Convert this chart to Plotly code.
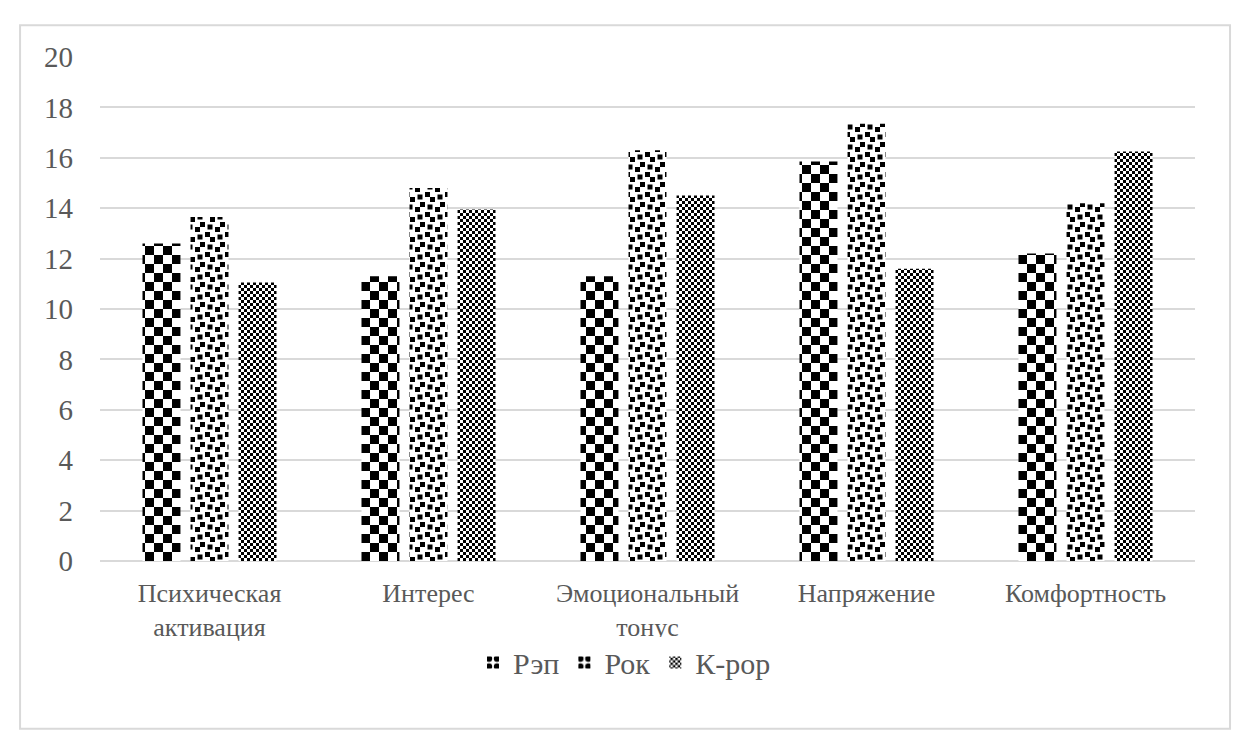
import plotly.graph_objects as go

categories = ["Психическая<br>активация", "Интерес", "Эмоциональный<br>тонус", "Напряжение", "Комфортность"]
rap = [12.6, 11.3, 11.3, 15.85, 12.2]
rock = [13.65, 14.8, 16.3, 17.35, 14.2]
kpop = [11.05, 13.95, 14.5, 11.6, 16.25]
series_names = ["Рэп", "Рок", "К-pop"]
y_ticks = [0, 2, 4, 6, 8, 10, 12, 14, 16, 18, 20]

FONT = "'Times New Roman', 'Liberation Serif', serif"
GRAY = "#595959"

fig = go.Figure()
# pattern sizes act as identifiers for the texture post-processing below
for name, vals, psize in zip(series_names, [rap, rock, kpop], [18, 20, 6]):
    fig.add_trace(go.Bar(
        name=name, x=categories, y=vals,
        marker=dict(color="white", line=dict(width=0),
                    pattern=dict(shape=".", size=psize, solidity=0.5,
                                 fgcolor="black", bgcolor="white", fillmode="replace")),
    ))

fig.update_layout(
    width=1249, height=745,
    margin=dict(l=100, r=54, t=57, b=184),
    paper_bgcolor="white", plot_bgcolor="white",
    barmode="group", bargap=0.342, bargroupgap=0.21,
    font=dict(family=FONT, color=GRAY),
    showlegend=True,
    legend=dict(orientation="h", x=0.479, xanchor="center", y=-0.15, yanchor="top",
                font=dict(family=FONT, size=30, color=GRAY), itemwidth=30, traceorder="normal"),
    xaxis=dict(tickfont=dict(family=FONT, size=26, color=GRAY), showline=False, showgrid=False,
               ticks="", ticklabelstandoff=14),
    yaxis=dict(range=[0, 20], tickvals=y_ticks, tickfont=dict(family=FONT, size=29, color=GRAY),
               showgrid=True, gridcolor="#d9d9d9", gridwidth=2, zeroline=True,
               zerolinecolor="#d9d9d9", zerolinewidth=2, showline=False, ticks="",
               ticklabelstandoff=26),
    shapes=[dict(type="rect", xref="paper", yref="paper", x0=-0.073, x1=1.032,
                 y0=-0.333, y1=1.063, line=dict(color="#d9d9d9", width=2),
                 fillcolor="rgba(0,0,0,0)", layer="below")],
)

post = r"""
(function(){
  var ns = 'http://www.w3.org/2000/svg';
  var u = 2.5;
  var conf = [];
  [[4,0],[0,2],[3,3],[6,4],[2,6]].forEach(function(b){ conf.push([b[0]*u, b[1]*u, 2*u, 2*u]); });
  conf.push([7*u,7*u,u,u],[0,7*u,u,u],[7*u,0,u,u],[0,0,u,u]);
  var defs = {
    18: {w:18, h:18, r:[[0,0,9,9],[9,9,9,9]]},
    6:  {w:6, h:6, r:[[0,0,3,3],[3,3,3,3]]},
    20: {w:8*u, h:8*u, r:conf}
  };
  var pats = document.querySelectorAll('pattern');
  pats.forEach(function(p){
    var w = Math.round(parseFloat(p.getAttribute('width')));
    var d = defs[w];
    if(!d) return;
    while(p.firstChild) p.removeChild(p.firstChild);
    p.setAttribute('width', d.w + 'px');
    p.setAttribute('height', d.h + 'px');
    var bg = document.createElementNS(ns, 'rect');
    bg.setAttribute('width', d.w); bg.setAttribute('height', d.h);
    bg.setAttribute('fill', 'white');
    p.appendChild(bg);
    d.r.forEach(function(q){
      var r = document.createElementNS(ns, 'rect');
      r.setAttribute('x', q[0]); r.setAttribute('y', q[1]);
      r.setAttribute('width', q[2]); r.setAttribute('height', q[3]);
      r.setAttribute('fill', 'black');
      p.appendChild(r);
    });
  });
})();
"""

fig.write_html("out.html", post_script=post)
